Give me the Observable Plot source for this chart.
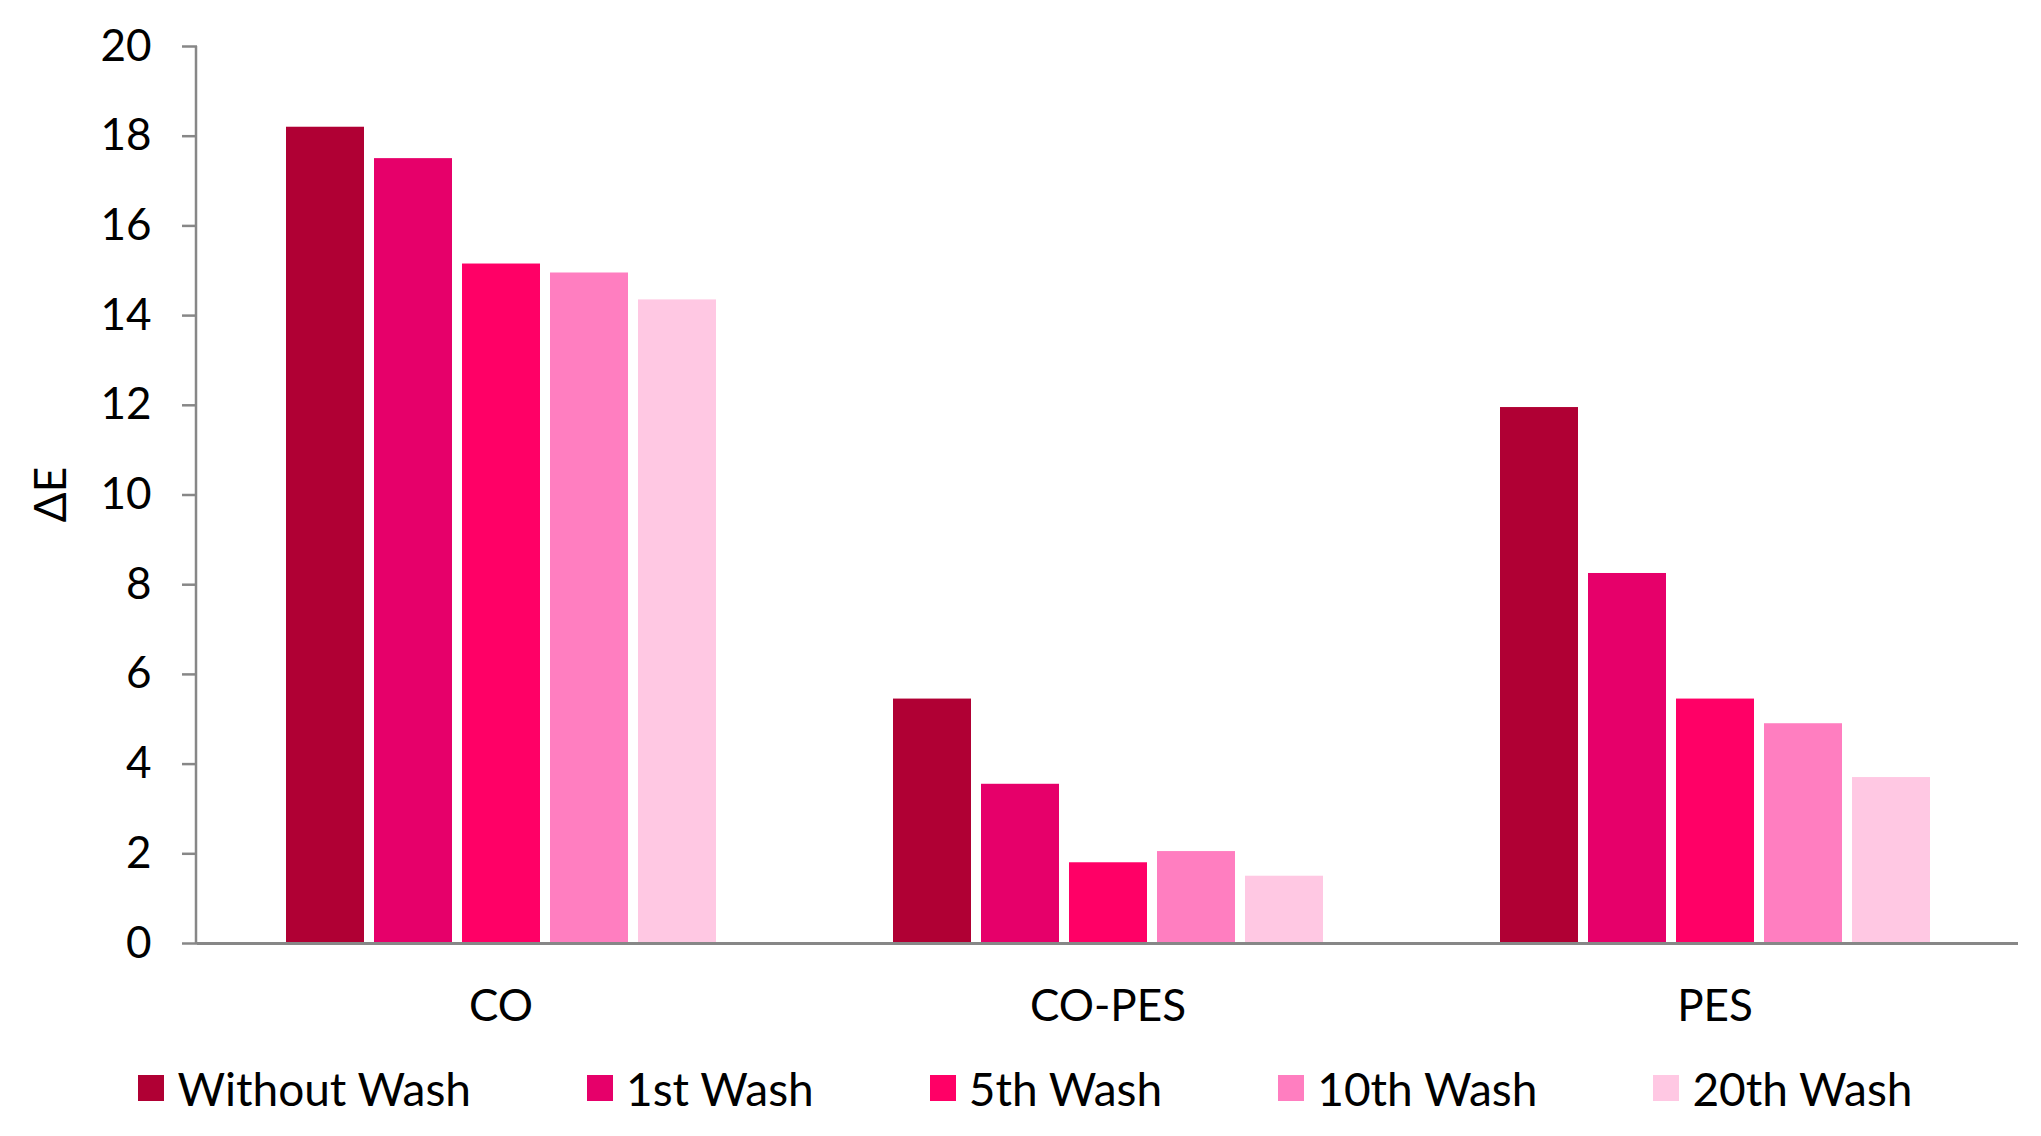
<!DOCTYPE html>
<html>
<head>
<meta charset="utf-8">
<script src="https://cdn.jsdelivr.net/npm/d3@7"></script>
<script src="https://cdn.jsdelivr.net/npm/@observablehq/plot@0.6"></script>
<style>
  html, body { margin: 0; padding: 0; background: #ffffff; }
  body { font-family: Lato, "Open Sans", sans-serif; color: #000; width: 2041px; }
  #legend { display: flex; justify-content: center; align-items: center; height: 76px; gap: 116px; font-size: 46px; padding-left: 10px; }
  .item { display: flex; align-items: center; gap: 13px; white-space: nowrap; }
  .sw { width: 26px; height: 26px; display: inline-block; }
</style>
</head>
<body>
<div id="chart"></div>
<div id="legend"></div>
<script>
// ---- data ----
const groups = ["CO", "CO-PES", "PES"];
const series = ["Without Wash", "1st Wash", "5th Wash", "10th Wash", "20th Wash"];
const colors = ["#B00034", "#E6006A", "#FF0066", "#FF7EC0", "#FFC8E3"];
const valuesCO = [18.2, 17.5, 15.15, 14.95, 14.35];
const valuesCOPES = [5.45, 3.55, 1.8, 2.05, 1.5];
const valuesPES = [11.95, 8.25, 5.45, 4.9, 3.7];
const yTicks = [0, 2, 4, 6, 8, 10, 12, 14, 16, 18, 20];
const yLabel = "ΔE";

const data = [];
[valuesCO, valuesCOPES, valuesPES].forEach((vals, gi) =>
  vals.forEach((v, si) => data.push({group: groups[gi], series: series[si], value: v}))
);

// ---- layout ----
const W = 2041, H = 1050;
const ML = 196, MR = 22, MT = 46, MB = H - 943;
const axisGray = "#878787";

const chart = Plot.plot({
  width: W, height: H,
  marginLeft: ML, marginRight: MR, marginTop: MT, marginBottom: MB,
  style: {fontFamily: "Lato, 'Open Sans', sans-serif", fontSize: "44px", color: "#000", background: "#fff", overflow: "visible"},
  fx: {domain: groups, padding: 0, label: null},
  x: {domain: series, paddingInner: 0.118, paddingOuter: 0.975, axis: null},
  y: {domain: [0, 20], label: null},
  color: {domain: series, range: colors},
  marks: [
    Plot.barY(data, {fx: "group", x: "series", y: "value", fill: "series"}),
    Plot.ruleY([0], {stroke: axisGray, strokeWidth: 3}),
    Plot.axisY({ticks: yTicks, tickSize: 15, tickPadding: 31, stroke: axisGray, strokeWidth: 2.5, fill: "#000", label: null, fontSize: 44}),
    Plot.axisFx({anchor: "bottom", tickSize: 0, tickPadding: 46, label: null, fill: "#000", fontSize: 44})
  ]
});

document.getElementById("chart").appendChild(chart);

// y-axis line and axis title, placed with the plot's own y scale
const ys = chart.scale("y");
const svg = d3.select(chart);
svg.append("line")
  .attr("x1", ML).attr("x2", ML)
  .attr("y1", ys.apply(20)).attr("y2", ys.apply(0))
  .attr("stroke", axisGray).attr("stroke-width", 2.5);
svg.append("text")
  .attr("transform", `translate(${ML - 147},${(ys.apply(0) + ys.apply(20)) / 2}) rotate(-90)`)
  .attr("text-anchor", "middle")
  .attr("dominant-baseline", "central")
  .attr("font-size", 44)
  .attr("fill", "#000")
  .text(yLabel);

// legend
const legend = d3.select("#legend");
series.forEach((s, i) => {
  const it = legend.append("div").attr("class", "item");
  it.append("span").attr("class", "sw").style("background", colors[i]);
  it.append("span").text(s);
});
</script>
</body>
</html>
